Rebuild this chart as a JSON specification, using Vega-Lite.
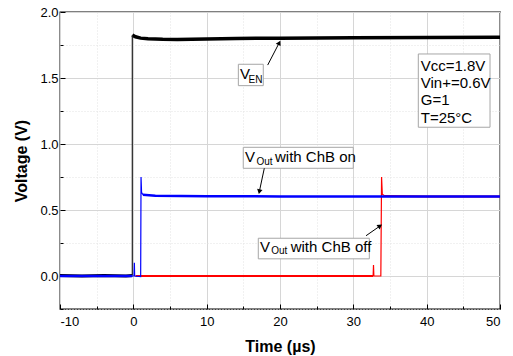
{
  "$schema": "https://vega.github.io/schema/vega-lite/v6.json",
  "width": 440,
  "height": 297,
  "autosize": "none",
  "padding": {"left": 60, "top": 12, "right": 13, "bottom": 47},
  "background": "white",
  "config": {"view": {"stroke": "black", "strokeWidth": 1.3}, "font": "Liberation Sans"},
  "datasets": {
    "curves": [
      {"s": "EN", "g": "flat1", "t": -10, "v": 0.004},
      {"s": "EN", "g": "flat1", "t": -7, "v": 0.0},
      {"s": "EN", "g": "flat1", "t": -4, "v": 0.004},
      {"s": "EN", "g": "flat1", "t": -1, "v": 0.0},
      {"s": "EN", "g": "flat1", "t": -0.14, "v": 0.003},
      {"s": "EN", "g": "rise", "t": -0.14, "v": 0.003},
      {"s": "EN", "g": "rise", "t": -0.14, "v": 1.825},
      {"s": "EN", "g": "flat2", "t": -0.14, "v": 1.825},
      {"s": "EN", "g": "flat2", "t": 0.3, "v": 1.812},
      {"s": "EN", "g": "flat2", "t": 1, "v": 1.802},
      {"s": "EN", "g": "flat2", "t": 2, "v": 1.797},
      {"s": "EN", "g": "flat2", "t": 4, "v": 1.793},
      {"s": "EN", "g": "flat2", "t": 6, "v": 1.792},
      {"s": "EN", "g": "flat2", "t": 8, "v": 1.793},
      {"s": "EN", "g": "flat2", "t": 10, "v": 1.796},
      {"s": "EN", "g": "flat2", "t": 14, "v": 1.799},
      {"s": "EN", "g": "flat2", "t": 20, "v": 1.802},
      {"s": "EN", "g": "flat2", "t": 30, "v": 1.805},
      {"s": "EN", "g": "flat2", "t": 40, "v": 1.807},
      {"s": "EN", "g": "flat2", "t": 50, "v": 1.808},
      {"s": "ON", "g": "flat1", "t": -10, "v": 0.0},
      {"s": "ON", "g": "flat1", "t": -5, "v": 0.0},
      {"s": "ON", "g": "flat1", "t": -0.15, "v": 0.0},
      {"s": "ON", "g": "rise", "t": -0.15, "v": 0.0},
      {"s": "ON", "g": "rise", "t": 0.1, "v": 0.0},
      {"s": "ON", "g": "rise", "t": 0.14, "v": 0.1},
      {"s": "ON", "g": "rise", "t": 0.18, "v": 0.0},
      {"s": "ON", "g": "rise", "t": 1.0, "v": -0.004},
      {"s": "ON", "g": "rise", "t": 1.05, "v": 0.75},
      {"s": "ON", "g": "rise", "t": 1.12, "v": 0.635},
      {"s": "ON", "g": "rise", "t": 1.3, "v": 0.615},
      {"s": "ON", "g": "flat2", "t": 1.3, "v": 0.615},
      {"s": "ON", "g": "flat2", "t": 3, "v": 0.608},
      {"s": "ON", "g": "flat2", "t": 10, "v": 0.604},
      {"s": "ON", "g": "flat2", "t": 20, "v": 0.603},
      {"s": "ON", "g": "flat2", "t": 30, "v": 0.603},
      {"s": "ON", "g": "flat2", "t": 40, "v": 0.603},
      {"s": "ON", "g": "flat2", "t": 50, "v": 0.602},
      {"s": "OFF", "g": "flat1", "t": 0.3, "v": 0.0},
      {"s": "OFF", "g": "flat1", "t": 10, "v": 0.0},
      {"s": "OFF", "g": "flat1", "t": 20, "v": 0.0},
      {"s": "OFF", "g": "flat1", "t": 32.7, "v": 0.0},
      {"s": "OFF", "g": "rise", "t": 32.7, "v": 0.0},
      {"s": "OFF", "g": "rise", "t": 32.75, "v": 0.083},
      {"s": "OFF", "g": "rise", "t": 32.8, "v": 0.0},
      {"s": "OFF", "g": "rise", "t": 33.75, "v": 0.0},
      {"s": "OFF", "g": "rise", "t": 33.85, "v": 0.75},
      {"s": "OFF", "g": "rise", "t": 33.95, "v": 0.62},
      {"s": "OFF", "g": "rise", "t": 34.3, "v": 0.606},
      {"s": "OFF", "g": "flat2", "t": 34.3, "v": 0.606},
      {"s": "OFF", "g": "flat2", "t": 40, "v": 0.603},
      {"s": "OFF", "g": "flat2", "t": 50, "v": 0.602}
    ],
    "boxes": [
      {"id": "EN", "t1": 14.32, "t2": 17.72, "v1": 1.442, "v2": 1.604},
      {"id": "P", "t1": 38.86, "t2": 48.64, "v1": 1.127, "v2": 1.682},
      {"id": "ON", "t1": 14.99, "t2": 29.99, "v1": 0.816, "v2": 0.975},
      {"id": "OFF", "t1": 17.04, "t2": 32.18, "v1": 0.130, "v2": 0.286}
    ],
    "arrows": [
      {"id": "EN", "k": 0, "t": 18.32, "v": 1.598},
      {"id": "EN", "k": 1, "t": 19.9, "v": 1.767},
      {"id": "ON", "k": 0, "t": 17.86, "v": 0.816},
      {"id": "ON", "k": 1, "t": 17.18, "v": 0.639},
      {"id": "OFF", "k": 0, "t": 31.73, "v": 0.305},
      {"id": "OFF", "k": 1, "t": 33.64, "v": 0.379}
    ],
    "labels": [
      {"kind": "main", "text": "V", "t": 14.545, "v": 1.49},
      {"kind": "sub", "text": "EN", "t": 15.72, "v": 1.46},
      {"kind": "main", "text": "V", "t": 15.23, "v": 0.861},
      {"kind": "sub", "text": "Out", "t": 16.78, "v": 0.841},
      {"kind": "main", "text": "with ChB on", "t": 19.32, "v": 0.861},
      {"kind": "main", "text": "V", "t": 17.27, "v": 0.184},
      {"kind": "sub", "text": "Out", "t": 18.8, "v": 0.164},
      {"kind": "main", "text": "with ChB off", "t": 21.46, "v": 0.184},
      {"kind": "main", "text": "Vcc=1.8V", "t": 39.19, "v": 1.555},
      {"kind": "main", "text": "Vin+=0.6V", "t": 39.19, "v": 1.427},
      {"kind": "main", "text": "G=1", "t": 39.19, "v": 1.293},
      {"kind": "main", "text": "T=25°C", "t": 39.19, "v": 1.157}
    ]
  },
  "layer": [
    {
      "data": {"name": "curves"},
      "transform": [{"filter": "datum.s == 'EN' && datum.g == 'flat1'"}],
      "mark": {"type": "line", "color": "black", "strokeWidth": 3},
      "encoding": {
        "x": {"field": "t", "type": "quantitative", "scale": {"domain": [-10, 50], "nice": false, "zero": false},
          "axis": {"orient": "bottom", "values": [-5, 5, 15, 25, 35, 45], "labels": false, "domain": false, "tickSize": -3, "tickColor": "black", "grid": true, "gridColor": "#e2e2e2", "gridDash": [1, 2], "title": null}},
        "y": {"field": "v", "type": "quantitative", "scale": {"domain": [-0.25, 2.0], "nice": false, "zero": false},
          "axis": {"orient": "left", "values": [-0.25, 0.25, 0.75, 1.25, 1.75], "labels": false, "domain": false, "tickSize": -3, "tickColor": "black", "grid": true, "gridColor": "#e2e2e2", "gridDash": [1, 2], "title": null}}
      }
    },
    {
      "data": {"name": "curves"},
      "transform": [{"filter": "datum.s == 'EN' && datum.g == 'flat2'"}],
      "mark": {"type": "line", "color": "black", "strokeWidth": 3.5},
      "encoding": {
        "x": {"field": "t", "type": "quantitative",
          "axis": {"orient": "bottom", "values": [-10, 0, 10, 20, 30, 40, 50], "labelExpr": "replace(datum.label, '\u2212', '-')", "domain": false, "tickSize": -5, "tickColor": "black", "labelFontSize": 13, "labelColor": "black", "labelPadding": 11, "grid": true, "gridColor": "#d6d6d6", "title": "Time (µs)", "titleFontSize": 16, "titleFontWeight": "bold", "titleColor": "black", "titlePadding": 10}},
        "y": {"field": "v", "type": "quantitative",
          "axis": {"orient": "left", "values": [0, 0.5, 1, 1.5, 2], "format": ".1f", "domain": false, "tickSize": -5, "tickColor": "black", "labelFontSize": 13, "labelColor": "black", "labelPadding": 7, "grid": true, "gridColor": "#d6d6d6", "title": "Voltage (V)", "titleFontSize": 16, "titleFontWeight": "bold", "titleColor": "black", "titlePadding": 10}}
      }
    },
    {
      "data": {"name": "curves"},
      "transform": [{"filter": "datum.s == 'EN' && datum.g == 'rise'"}],
      "mark": {"type": "line", "color": "#222222", "strokeWidth": 1.2},
      "encoding": {"x": {"field": "t", "type": "quantitative", "axis": null}, "y": {"field": "v", "type": "quantitative", "axis": null}}
    },
    {
      "data": {"name": "curves"},
      "transform": [{"filter": "datum.s == 'OFF' && datum.g != 'rise'"}],
      "mark": {"type": "line", "color": "#ff0000", "strokeWidth": 2},
      "encoding": {"x": {"field": "t", "type": "quantitative", "axis": null}, "y": {"field": "v", "type": "quantitative", "axis": null}, "detail": {"field": "g"}}
    },
    {
      "data": {"name": "curves"},
      "transform": [{"filter": "datum.s == 'OFF' && datum.g == 'rise'"}],
      "mark": {"type": "line", "color": "#ff0000", "strokeWidth": 1.2},
      "encoding": {"x": {"field": "t", "type": "quantitative", "axis": null}, "y": {"field": "v", "type": "quantitative", "axis": null}}
    },
    {
      "data": {"name": "curves"},
      "transform": [{"filter": "datum.s == 'ON' && datum.g != 'rise'"}],
      "mark": {"type": "line", "color": "#0000ff", "strokeWidth": 2.5},
      "encoding": {"x": {"field": "t", "type": "quantitative", "axis": null}, "y": {"field": "v", "type": "quantitative", "axis": null}, "detail": {"field": "g"}}
    },
    {
      "data": {"name": "curves"},
      "transform": [{"filter": "datum.s == 'ON' && datum.g == 'rise'"}],
      "mark": {"type": "line", "color": "#0000ff", "strokeWidth": 1.2},
      "encoding": {"x": {"field": "t", "type": "quantitative", "axis": null}, "y": {"field": "v", "type": "quantitative", "axis": null}}
    },
    {
      "data": {"name": "boxes"},
      "mark": {"type": "rect", "fill": "white", "stroke": "#a6a6a6", "strokeWidth": 1},
      "encoding": {
        "x": {"field": "t1", "type": "quantitative", "axis": null}, "x2": {"field": "t2"},
        "y": {"field": "v1", "type": "quantitative", "axis": null}, "y2": {"field": "v2"}
      }
    },
    {
      "data": {"name": "arrows"},
      "mark": {"type": "line", "color": "black", "strokeWidth": 1},
      "encoding": {"x": {"field": "t", "type": "quantitative", "axis": null}, "y": {"field": "v", "type": "quantitative", "axis": null}, "detail": {"field": "id"}, "order": {"field": "k"}}
    },
    {
      "data": {"name": "arrows"},
      "transform": [{"filter": "datum.k == 1 && datum.id == 'EN'"}],
      "mark": {"type": "point", "shape": "triangle-up", "filled": true, "color": "black", "size": 30, "angle": 27, "opacity": 1},
      "encoding": {"x": {"field": "t", "type": "quantitative", "axis": null}, "y": {"field": "v", "type": "quantitative", "axis": null}}
    },
    {
      "data": {"name": "arrows"},
      "transform": [{"filter": "datum.k == 1 && datum.id == 'ON'"}],
      "mark": {"type": "point", "shape": "triangle-up", "filled": true, "color": "black", "size": 30, "angle": 192, "opacity": 1},
      "encoding": {"x": {"field": "t", "type": "quantitative", "axis": null}, "y": {"field": "v", "type": "quantitative", "axis": null}}
    },
    {
      "data": {"name": "arrows"},
      "transform": [{"filter": "datum.k == 1 && datum.id == 'OFF'"}],
      "mark": {"type": "point", "shape": "triangle-up", "filled": true, "color": "black", "size": 30, "angle": 55, "opacity": 1},
      "encoding": {"x": {"field": "t", "type": "quantitative", "axis": null}, "y": {"field": "v", "type": "quantitative", "axis": null}}
    },
    {
      "data": {"name": "labels"},
      "transform": [{"filter": "datum.kind == 'main'"}],
      "mark": {"type": "text", "align": "left", "baseline": "alphabetic", "fontSize": 15, "color": "black", "font": "Liberation Sans"},
      "encoding": {"x": {"field": "t", "type": "quantitative", "axis": null}, "y": {"field": "v", "type": "quantitative", "axis": null}, "text": {"field": "text"}}
    },
    {
      "data": {"name": "labels"},
      "transform": [{"filter": "datum.kind == 'sub'"}],
      "mark": {"type": "text", "align": "left", "baseline": "alphabetic", "fontSize": 10, "color": "black", "font": "Liberation Sans"},
      "encoding": {"x": {"field": "t", "type": "quantitative", "axis": null}, "y": {"field": "v", "type": "quantitative", "axis": null}, "text": {"field": "text"}}
    }
  ],
  "resolve": {"axis": {"x": "independent", "y": "independent"}}
}
